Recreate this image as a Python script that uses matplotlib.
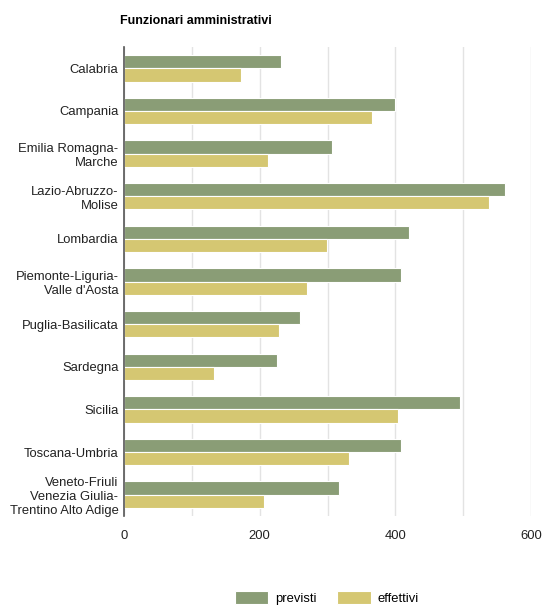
import numpy as np
import matplotlib
matplotlib.use('Agg')
import matplotlib.pyplot as plt

plt.rcParams['font.family'] = ['Liberation Sans', 'DejaVu Sans']

regioni = ['Calabria', 'Campania', 'Emilia Romagna-\nMarche', 'Lazio-Abruzzo-\nMolise',
           'Lombardia', 'Piemonte-Liguria-\nValle d\'Aosta', 'Puglia-Basilicata',
           'Sardegna', 'Sicilia', 'Toscana-Umbria',
           'Veneto-Friuli\nVenezia Giulia-\nTrentino Alto Adige']
previsti = [232, 400, 306, 562, 420, 408, 259, 225, 495, 409, 317]
effettivi = [172, 365, 213, 538, 299, 270, 228, 133, 404, 331, 207]
tick_vals = [0, 100, 200, 300, 400, 500, 600]
tick_labels = ['0', '', '200', '', '400', '', '600']

fig = plt.figure(figsize=(5.42, 6.06), dpi=100)
ax = fig.add_axes([0.2288, 0.1485, 0.7509, 0.7739])

y = np.arange(len(regioni))
h = 0.31
ax.barh(y - h / 2, previsti, height=h, color='#8a9d76', edgecolor='white',
        linewidth=0.8, label='previsti', zorder=3)
ax.barh(y + h / 2, effettivi, height=h, color='#d5c772', edgecolor='white',
        linewidth=0.8, label='effettivi', zorder=3)

ax.set_ylim(len(regioni) - 0.5, -0.5)
ax.set_xlim(0, 600)
ax.set_yticks(y)
ax.set_yticklabels(regioni, fontsize=9.4, linespacing=1.2, multialignment='right')
ax.set_xticks(tick_vals)
ax.set_xticklabels(tick_labels, fontsize=9.4)
ax.tick_params(axis='both', length=0, pad=4, colors='#222222')
ax.tick_params(axis='x', pad=10)

ax.grid(axis='x', color='#e3e3e3', linewidth=1, zorder=0)
for s in ['top', 'right', 'bottom']:
    ax.spines[s].set_visible(False)
ax.spines['left'].set_color('#555555')
ax.spines['left'].set_linewidth(1.2)
ax.spines['left'].set_zorder(4)

fig.text(0.2214, 0.965, 'Funzionari amministrativi', fontsize=9, fontweight='bold',
         ha='left', va='center')

fig.legend(loc='center', bbox_to_anchor=(0.603, 0.013), ncol=2, frameon=False,
           fontsize=9.4, handlelength=2.6, handleheight=1.2, columnspacing=1.6,
           handletextpad=0.5)

fig.savefig('out.png', dpi=100)
